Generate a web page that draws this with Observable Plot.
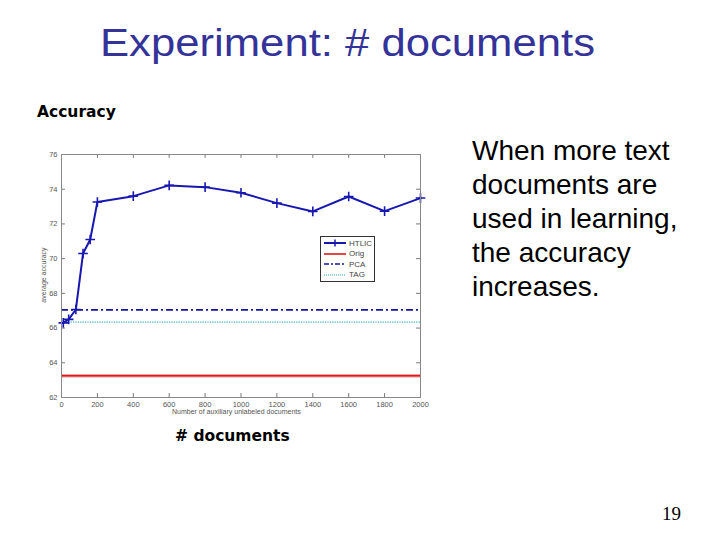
<!DOCTYPE html>
<html>
<head>
<meta charset="utf-8">
<script src="https://cdn.jsdelivr.net/npm/d3@7"></script>
<script src="https://cdn.jsdelivr.net/npm/@observablehq/plot@0.6"></script>
<style>
  html, body { margin: 0; padding: 0; background: #fff; }
  #page { position: relative; width: 720px; height: 540px; overflow: hidden; background: #fff; font-family: "Liberation Sans", Arial, sans-serif; }
  .abs { position: absolute; white-space: nowrap; }
  #chart { position: absolute; left: 25px; top: 140px; }
  #legend { position: absolute; left: 320px; top: 236px; width: 53px; height: 44px; border: 1px solid #333; background: #fff; font-size: 8px; color: #444; }
  #legend .row { position: absolute; left: 2px; height: 10px; display: flex; align-items: center; }
  #legend svg { width: 24px; height: 10px; margin-right: 2px; }
</style>
</head>
<body>
<div id="page">
  <svg class="abs" style="left:0;top:0" width="720" height="80">
    <text x="100" y="56" textLength="495" lengthAdjust="spacingAndGlyphs" font-family="Liberation Sans, Arial, sans-serif" font-size="38" fill="#333399">Experiment: # documents</text>
  </svg>
  <div class="abs" style="left:37px;top:103px;font-family:'DejaVu Sans',Verdana,sans-serif;font-weight:bold;font-size:15.5px;">Accuracy</div>
  <div class="abs" style="left:472px;top:134px;font-size:28px;line-height:34px;color:#000;">When more text<br>documents are<br>used in learning,<br>the accuracy<br>increases.</div>
  <div class="abs" style="left:175px;top:427px;font-family:'DejaVu Sans',Verdana,sans-serif;font-weight:bold;font-size:15.5px;"># documents</div>
  <div class="abs" style="left:662px;top:503px;font-family:'Liberation Serif','Times New Roman',serif;font-size:19px;">19</div>
  <div id="chart"></div>
  <div class="abs" style="left:172px;top:408px;font-size:7px;color:#555;">Number of auxiliary unlabeled documents</div>
  <div class="abs" style="left:43px;top:275px;font-size:7px;color:#555;transform:translate(-50%,-50%) rotate(-90deg);">average accuracy</div>
  <div id="legend"></div>
</div>
<script>
// ---- data ----
const docs = [10, 40, 80, 120, 160, 200, 400, 600, 800, 1000, 1200, 1400, 1600, 1800, 2000];
const htlic = [66.3, 66.5, 67.07, 70.3, 71.1, 73.26, 73.6, 74.22, 74.12, 73.8, 73.2, 72.72, 73.58, 72.74, 73.49];
const origAcc = [63.25];
const pcaAcc = [67.05];
const tagAcc = [66.34];
const xTicks = [0, 200, 400, 600, 800, 1000, 1200, 1400, 1600, 1800, 2000];
const yTicks = [62, 64, 66, 68, 70, 72, 74, 76];
const seriesNames = ["HTLIC", "Orig", "PCA", "TAG"];

const xDom = [0, 2000], yDom = [62, 76];
const colors = { htlic: "#1818b0", orig: "#e01818", pca: "#1414a0", tag: "#6cc8d0" };

const htlicData = docs.map((d, i) => ({ x: d, y: htlic[i] }));
const xLen = (xDom[1] - xDom[0]) * 0.011;
const yLen = (yDom[1] - yDom[0]) * 0.016;

const chart = Plot.plot({
  width: 410,
  height: 285,
  marginLeft: 36,
  marginRight: 15,
  marginTop: 14,
  marginBottom: 28,
  style: { fontFamily: "Liberation Sans, Arial, sans-serif", background: "transparent" },
  x: { domain: xDom, ticks: xTicks },
  y: { domain: yDom, ticks: yTicks },
  marks: [
    Plot.ruleY(tagAcc, { stroke: colors.tag, strokeWidth: 1.6, strokeDasharray: "1.2,1.2" }),
    Plot.ruleY(pcaAcc, { stroke: colors.pca, strokeWidth: 1.8, strokeDasharray: "7,3,2,3" }),
    Plot.ruleY(origAcc, { stroke: "#f2a0a0", strokeWidth: 3.5 }),
    Plot.ruleY(origAcc, { stroke: colors.orig, strokeWidth: 1.6 }),
    Plot.line(htlicData, { x: "x", y: "y", stroke: colors.htlic, strokeWidth: 2 }),
    Plot.dot(htlicData, { x: "x", y: "y", symbol: "plus", r: 3.2, stroke: colors.htlic, strokeWidth: 1.6 }),
    Plot.ruleX(xTicks, { x: d => d, y1: yDom[0], y2: yDom[0] + yLen, stroke: "#777" }),
    Plot.ruleX(xTicks, { x: d => d, y1: yDom[1], y2: yDom[1] - yLen, stroke: "#777" }),
    Plot.ruleY(yTicks, { y: d => d, x1: xDom[0], x2: xDom[0] + xLen, stroke: "#777" }),
    Plot.ruleY(yTicks, { y: d => d, x1: xDom[1], x2: xDom[1] - xLen, stroke: "#777" }),
    Plot.frame({ stroke: "#888" }),
    Plot.axisX({ ticks: xTicks, tickFormat: d => String(d), tickSize: 0, tickPadding: 4, fontSize: 7.5, fill: "#555", label: null }),
    Plot.axisY({ ticks: yTicks, tickFormat: d => String(d), tickSize: 0, tickPadding: 4, fontSize: 7.5, fill: "#555", label: null })
  ]
});
document.getElementById("chart").appendChild(chart);

// ---- legend ----
const legendStyles = [
  { stroke: colors.htlic, dash: null, plus: true, w: 2 },
  { stroke: colors.orig, dash: null, w: 1.6 },
  { stroke: colors.pca, dash: "5,2,2,2", w: 1.6 },
  { stroke: colors.tag, dash: "1,1", w: 1.4 }
];
const legend = document.getElementById("legend");
seriesNames.forEach((name, i) => {
  const s = legendStyles[i];
  const row = document.createElement("div");
  row.className = "row";
  row.style.top = (1 + i * 10.5) + "px";
  row.innerHTML =
    `<svg viewBox="0 0 24 10"><line x1="1" x2="23" y1="5" y2="5" stroke="${s.stroke}" stroke-width="${s.w}" ${s.dash ? `stroke-dasharray="${s.dash}"` : ""}/>` +
    (s.plus ? `<path d="M12,1.5V8.5M8.5,5H15.5" stroke="${s.stroke}" stroke-width="1.5"/>` : "") +
    `</svg><span>${name}</span>`;
  legend.appendChild(row);
});
</script>
</body>
</html>
